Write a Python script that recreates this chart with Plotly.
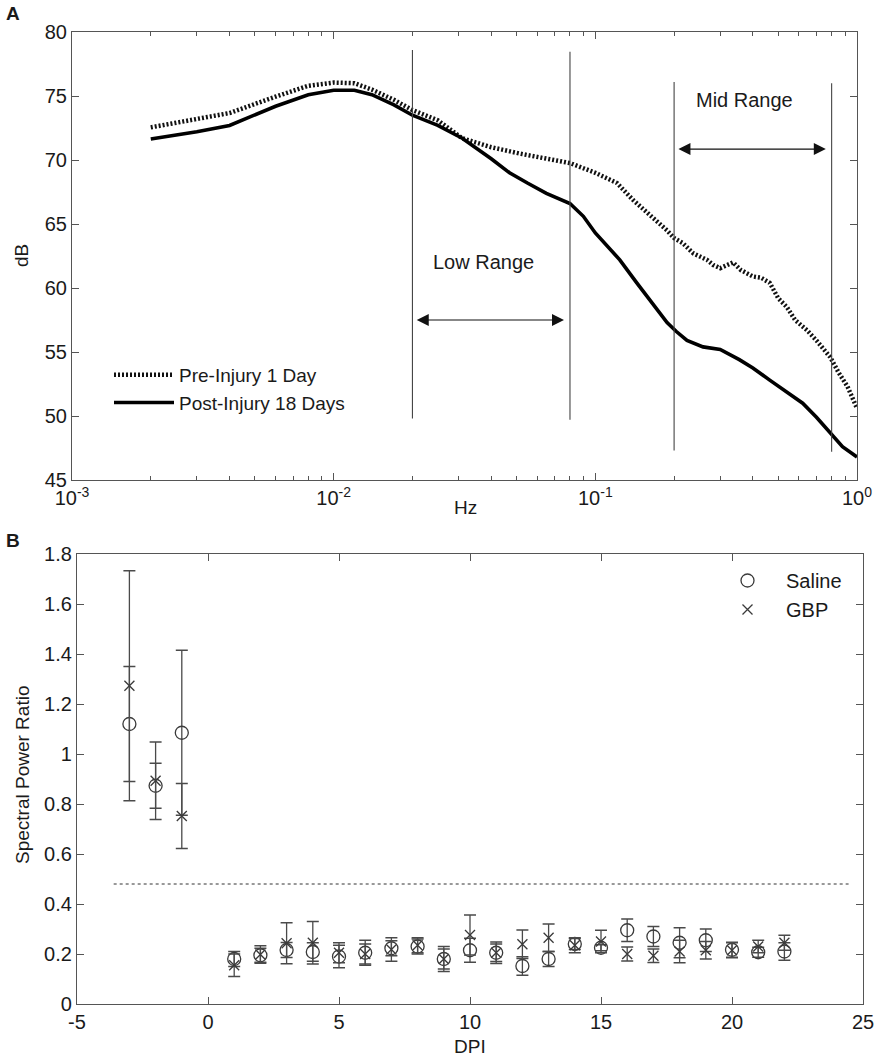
import numpy as np
import plotly.graph_objects as go

# ---------------- Panel A data ----------------
freq_pre = [0.002, 0.003, 0.004, 0.006, 0.008, 0.010, 0.012, 0.014, 0.017, 0.020,
            0.025, 0.031, 0.040, 0.0515, 0.065, 0.080, 0.100, 0.121, 0.139, 0.166,
            0.188, 0.200, 0.216, 0.237, 0.267, 0.282, 0.300, 0.336, 0.360, 0.400,
            0.430, 0.464, 0.500, 0.540, 0.580, 0.644, 0.700, 0.790, 0.850, 0.920, 1.000]
db_pre = [72.55, 73.2, 73.67, 74.95, 75.8, 76.05, 76.0, 75.5, 74.7, 73.9,
          73.1, 71.7, 71.0, 70.5, 70.1, 69.76, 69.0, 68.2, 66.9, 65.5,
          64.5, 63.9, 63.5, 62.7, 62.2, 61.8, 61.55, 62.0, 61.4, 60.9,
          60.8, 60.4, 59.2, 58.5, 57.5, 56.7, 55.9, 54.6, 53.4, 52.3, 50.6]

freq_post = [0.002, 0.003, 0.004, 0.006, 0.008, 0.010, 0.012, 0.014, 0.017, 0.020,
             0.025, 0.031, 0.040, 0.047, 0.055, 0.065, 0.080, 0.090, 0.100, 0.124,
             0.144, 0.165, 0.188, 0.204, 0.224, 0.258, 0.300, 0.355, 0.400, 0.464,
             0.540, 0.620, 0.700, 0.790, 0.880, 1.000]
db_post = [71.64, 72.2, 72.7, 74.2, 75.1, 75.45, 75.45, 75.1, 74.3, 73.5,
           72.7, 71.7, 70.1, 69.0, 68.2, 67.4, 66.6, 65.6, 64.3, 62.2,
           60.4, 58.8, 57.3, 56.6, 55.9, 55.4, 55.2, 54.4, 53.75, 52.8,
           51.9, 51.0, 49.9, 48.7, 47.6, 46.8]

# vertical range markers (Hz) with their low/high dB extent
range_lines_hz = [0.02, 0.08, 0.2, 0.8]
range_lines_lo = [49.8, 49.7, 47.3, 47.2]
range_lines_hi = [78.6, 78.45, 76.1, 76.0]

low_arrow_hz = [0.0205, 0.0759]
low_arrow_db = 57.5
mid_arrow_hz = [0.205, 0.76]
mid_arrow_db = 70.85
low_label_pos = (0.0375, 62.0)
mid_label_pos = (0.373, 74.7)

a_xtick_vals = [0.001, 0.01, 0.1, 1]
a_xtick_text = ["10<sup>-3</sup>", "10<sup>-2</sup>", "10<sup>-1</sup>", "10<sup>0</sup>"]
a_minor_vals = [m * d for d in [0.001, 0.01, 0.1] for m in range(2, 10)]
a_ytick_vals = [45, 50, 55, 60, 65, 70, 75, 80]

# ---------------- Panel B data ----------------
dpi = [-3, -2, -1, 1, 2, 3, 4, 5, 6, 7, 8, 9, 10, 11, 12, 13, 14, 15, 16, 17, 18, 19, 20, 21, 22]
saline_mean = [1.12, 0.873, 1.085, 0.18, 0.195, 0.216, 0.208, 0.19, 0.205, 0.223, 0.23, 0.18,
               0.215, 0.205, 0.152, 0.18, 0.24, 0.225, 0.295, 0.27, 0.245, 0.255, 0.217, 0.207, 0.21]
saline_err = [0.23, 0.09, 0.33, 0.03, 0.028, 0.03, 0.037, 0.045, 0.05, 0.03, 0.03, 0.04,
              0.048, 0.035, 0.037, 0.03, 0.022, 0.012, 0.045, 0.04, 0.06, 0.045, 0.03, 0.02, 0.035]
gbp_mean = [1.273, 0.893, 0.752, 0.155, 0.198, 0.243, 0.245, 0.205, 0.2, 0.218, 0.235, 0.18,
            0.276, 0.205, 0.239, 0.265, 0.235, 0.25, 0.2, 0.193, 0.21, 0.215, 0.215, 0.23, 0.245]
gbp_err = [0.46, 0.155, 0.13, 0.045, 0.035, 0.082, 0.085, 0.04, 0.04, 0.047, 0.03, 0.05,
           0.08, 0.043, 0.057, 0.055, 0.03, 0.045, 0.028, 0.027, 0.045, 0.035, 0.03, 0.025, 0.03]

threshold_value = 0.48
threshold_dpi = [-3.6, 24.45]

b_xtick_vals = [-5, 0, 5, 10, 15, 20, 25]
b_xtick_text = [str(v) for v in b_xtick_vals]
b_ytick_vals = [0, 0.2, 0.4, 0.6, 0.8, 1.0, 1.2, 1.4, 1.6, 1.8]
b_ytick_text = ["0", "0.2", "0.4", "0.6", "0.8", "1", "1.2", "1.4", "1.6", "1.8"]

# ---------------- Figure ----------------
W, H = 875, 1060
FONT = "Liberation Sans, Arial, sans-serif"
AX = "#555555"
TXT = "#1a1a1a"

def px_x(p):
    return p / W

def px_y(p):
    return 1 - p / H

fig = go.Figure()

fig.add_trace(go.Scatter(x=freq_pre, y=db_pre, mode="lines", name="Pre-Injury 1 Day",
                         line=dict(color="#111111", width=4.5, dash="2px,2px"),
                         xaxis="x", yaxis="y", legend="legend"))
fig.add_trace(go.Scatter(x=freq_post, y=db_post, mode="lines", name="Post-Injury 18 Days",
                         line=dict(color="#000000", width=3.6),
                         xaxis="x", yaxis="y", legend="legend"))

for f, lo, hi in zip(range_lines_hz, range_lines_lo, range_lines_hi):
    fig.add_trace(go.Scatter(x=[f, f], y=[lo, hi], mode="lines", showlegend=False,
                             line=dict(color="#444444", width=1.1), hoverinfo="skip",
                             xaxis="x", yaxis="y"))

fig.add_trace(go.Scatter(x=dpi, y=saline_mean, mode="markers", name="Saline",
                         marker=dict(symbol="circle-open", size=13, color="#3a3a3a",
                                     line=dict(width=1.3)),
                         error_y=dict(type="data", array=saline_err, color="#4a4a4a",
                                      thickness=1.3, width=6),
                         xaxis="x2", yaxis="y2", legend="legend2"))
fig.add_trace(go.Scatter(x=dpi, y=gbp_mean, mode="markers", name="GBP",
                         marker=dict(symbol="x-thin-open", size=10, color="#3a3a3a",
                                     line=dict(width=1.3, color="#3a3a3a")),
                         error_y=dict(type="data", array=gbp_err, color="#4a4a4a",
                                      thickness=1.3, width=6),
                         xaxis="x2", yaxis="y2", legend="legend2"))

fig.add_shape(type="line", xref="x2", yref="y2",
              x0=threshold_dpi[0], x1=threshold_dpi[1], y0=threshold_value, y1=threshold_value,
              line=dict(color="#333333", width=1, dash="dot"))

annotations = []
# double-headed arrows (annotation coords on log axis are log10)
for (x0, x1), yv in [(low_arrow_hz, low_arrow_db), (mid_arrow_hz, mid_arrow_db)]:
    annotations.append(dict(x=np.log10(x1), y=yv, ax=np.log10(x0), ay=yv,
                            xref="x", yref="y", axref="x", ayref="y",
                            showarrow=True, arrowhead=2, startarrowhead=2,
                            arrowside="end+start", arrowsize=2.0, startarrowsize=2.0,
                            arrowwidth=1.2, arrowcolor="#111111", text=""))


def label(x, y, text, xref="paper", yref="paper", angle=0, size=19):
    return dict(x=x, y=y, xref=xref, yref=yref, text=text, textangle=angle,
                showarrow=False, xanchor="center", yanchor="middle",
                font=dict(size=size, color=TXT, family=FONT))


annotations.append(label(np.log10(low_label_pos[0]), low_label_pos[1], "Low Range",
                         xref="x", yref="y", size=20))
annotations.append(label(np.log10(mid_label_pos[0]), mid_label_pos[1], "Mid Range",
                         xref="x", yref="y", size=20))

# panel letters and axis titles
annotations.append(label(px_x(13), px_y(14), "<b>A</b>"))
annotations.append(label(px_x(13), px_y(540), "<b>B</b>"))
annotations.append(label(px_x(465), px_y(507), "Hz"))
annotations.append(label(px_x(470), px_y(1046), "DPI"))
annotations.append(label(px_x(22), px_y(256), "dB", angle=-90))
annotations.append(label(px_x(22), px_y(775), "Spectral Power Ratio", angle=-90))

common_axis = dict(showline=True, linecolor=AX, linewidth=1.2, mirror="ticks",
                   ticks="inside", tickcolor=AX, tickwidth=1.1, ticklen=7,
                   showgrid=False, zeroline=False, automargin=False,
                   tickfont=dict(size=20, color=TXT, family=FONT))

fig.update_layout(
    width=W, height=H,
    margin=dict(l=0, r=0, t=0, b=0, pad=0, autoexpand=False),
    paper_bgcolor="white", plot_bgcolor="white",
    font=dict(family=FONT, color=TXT),
    xaxis=dict(type="log", range=[-3, 0], domain=[px_x(72), px_x(857)], anchor="y",
               tickvals=a_xtick_vals, ticktext=a_xtick_text,
               minor=dict(tickvals=a_minor_vals, ticks="inside", ticklen=4,
                          tickcolor=AX, tickwidth=1),
               **common_axis),
    yaxis=dict(range=[45, 80], domain=[px_y(480), px_y(32)], anchor="x",
               tickvals=a_ytick_vals, **common_axis),
    xaxis2=dict(range=[-5, 25], domain=[px_x(77), px_x(863)], anchor="y2",
                tickvals=b_xtick_vals, ticktext=b_xtick_text, **common_axis),
    yaxis2=dict(range=[0, 1.8], domain=[px_y(1004), px_y(554)], anchor="x2",
                tickvals=b_ytick_vals, ticktext=b_ytick_text, **common_axis),
    legend=dict(x=px_x(109), y=px_y(356), xanchor="left", yanchor="top",
                bgcolor="rgba(0,0,0,0)", font=dict(size=19, color=TXT, family=FONT),
                itemwidth=60, tracegroupgap=0),
    legend2=dict(x=px_x(709), y=px_y(561), xanchor="left", yanchor="top",
                 bgcolor="rgba(0,0,0,0)", font=dict(size=20, color=TXT, family=FONT),
                 itemwidth=67, tracegroupgap=0),
    annotations=annotations,
    showlegend=True,
)

fig.write_html("out.html")
